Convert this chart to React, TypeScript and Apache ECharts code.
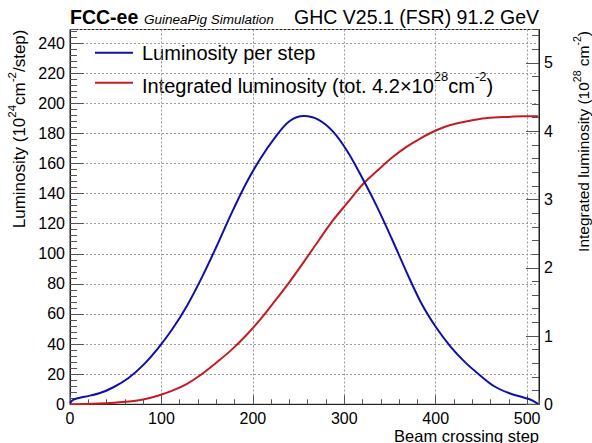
import React, { useEffect, useRef } from "react";
import * as echarts from "echarts";

// Luminosity per step (10^24 cm^-2 / step)
const lumiSteps = [0, 4, 16, 32, 48, 64, 80, 96, 112, 128, 144, 160, 176, 192, 208, 224, 240, 256, 272, 288, 304, 320, 336, 352, 368, 384, 400, 416, 432, 448, 464, 480, 496, 504, 512];
const lumiValues = [0.8, 3.2, 5.0, 7.3, 11.5, 17.5, 26, 37, 50, 65.5, 84, 104.5, 126, 146, 163, 177, 188, 191.5, 189, 181, 167.5, 150, 131, 110, 88, 67.5, 51.5, 38.5, 28, 19.5, 12, 7.5, 4.5, 3, 0.3];

// Integrated luminosity (10^28 cm^-2)
const intSteps = [0, 16, 32, 48, 64, 80, 96, 112, 128, 144, 160, 176, 192, 208, 224, 240, 256, 272, 288, 304, 320, 336, 352, 368, 384, 400, 416, 432, 448, 464, 480, 496, 512];
const intValues = [0, 0.003, 0.01, 0.022, 0.04, 0.07, 0.125, 0.2, 0.3, 0.44, 0.61, 0.79, 1.0, 1.24, 1.51, 1.79, 2.09, 2.4, 2.7, 2.96, 3.22, 3.42, 3.61, 3.77, 3.9, 4.01, 4.09, 4.14, 4.18, 4.2, 4.21, 4.22, 4.22];

// Axis settings
const xMax = 513;
const xMajor = 100;
const xMinor = 20;
const leftMax = 249;
const leftMajor = 20;
const leftMinor = 4;
const rightMax = 5.49;
const rightMajor = 1;
const rightMinor = 0.2;

const FONT = '"Liberation Sans", Arial, Helvetica, sans-serif';
const BLUE = "#1010a8";
const RED = "#c41c22";
const TICK = "#555";
const AXIS = "#222";

export default function App() {
  const ref = useRef<HTMLDivElement>(null);

  useEffect(() => {
    const chart = echarts.init(ref.current as HTMLDivElement, null, { renderer: "svg" });

    const supRich = (size: number, supSize: number) => ({
      n: { fontSize: size, fontFamily: FONT, color: "#000", lineHeight: Math.round(size * 1.3), verticalAlign: "bottom" },
      s: { fontSize: supSize, fontFamily: FONT, color: "#000", lineHeight: supSize, verticalAlign: "top" },
    });

    const tick = (len: number) => ({ show: true, inside: true, length: len, lineStyle: { color: TICK, width: 1 } });
    const label = (margin: number) => ({
      show: true,
      margin,
      fontSize: 16,
      fontFamily: FONT,
      color: "#000",
      showMaxLabel: false,
    });
    const gridLine = { show: true, lineStyle: { color: "#9a9a9a", type: [2, 2], width: 1 } };

    chart.setOption({
      animation: false,
      backgroundColor: "#fff",
      grid: {
        left: 70,
        right: 53,
        top: 29.5,
        bottom: 38.7,
        show: true,
        borderColor: AXIS,
        borderWidth: 1,
        containLabel: false,
      },
      xAxis: [
        {
          type: "value",
          position: "bottom",
          min: 0,
          max: xMax,
          interval: xMajor,
          axisLine: { show: true, onZero: false, lineStyle: { color: AXIS, width: 1 } },
          axisTick: tick(9),
          axisLabel: label(6),
          splitLine: gridLine,
        },
        {
          type: "value",
          position: "bottom",
          min: 0,
          max: xMax,
          interval: xMinor,
          axisLine: { show: false, onZero: false },
          axisTick: tick(5),
          axisLabel: { show: false },
          splitLine: { show: false },
        },
      ],
      yAxis: [
        {
          type: "value",
          position: "left",
          min: 0,
          max: leftMax,
          interval: leftMajor,
          axisLine: { show: true, onZero: false, lineStyle: { color: AXIS, width: 1 } },
          axisTick: tick(14),
          axisLabel: label(5),
          splitLine: gridLine,
        },
        {
          type: "value",
          position: "left",
          min: 0,
          max: leftMax,
          interval: leftMinor,
          axisLine: { show: false, onZero: false },
          axisTick: tick(7),
          axisLabel: { show: false },
          splitLine: { show: false },
        },
        {
          type: "value",
          position: "right",
          min: 0,
          max: rightMax,
          interval: rightMajor,
          axisLine: { show: true, onZero: false, lineStyle: { color: AXIS, width: 1 } },
          axisTick: tick(13),
          axisLabel: label(5),
          splitLine: { show: false },
        },
        {
          type: "value",
          position: "right",
          min: 0,
          max: rightMax,
          interval: rightMinor,
          axisLine: { show: false, onZero: false },
          axisTick: tick(7),
          axisLabel: { show: false },
          splitLine: { show: false },
        },
      ],
      series: [
        {
          name: "Integrated luminosity",
          type: "line",
          xAxisIndex: 0,
          yAxisIndex: 2,
          data: intSteps.map((x, i) => [x, intValues[i]]),
          showSymbol: false,
          symbol: "none",
          smooth: 0.35,
          lineStyle: { color: RED, width: 2 },
          itemStyle: { color: RED },
          z: 3,
        },
        {
          name: "Luminosity per step",
          type: "line",
          xAxisIndex: 0,
          yAxisIndex: 0,
          data: lumiSteps.map((x, i) => [x, lumiValues[i]]),
          showSymbol: false,
          symbol: "none",
          smooth: 0.35,
          lineStyle: { color: BLUE, width: 2 },
          itemStyle: { color: BLUE },
          z: 4,
        },
      ],
      graphic: [
        {
          type: "text",
          x: 70,
          y: 17,
          style: { text: "FCC-ee", fontSize: 19.5, fontWeight: "bold", fontFamily: FONT, fill: "#000", align: "left", verticalAlign: "middle" },
        },
        {
          type: "text",
          x: 144,
          y: 19.2,
          style: { text: "GuineaPig Simulation", fontSize: 13.5, fontStyle: "italic", fontFamily: FONT, fill: "#000", align: "left", verticalAlign: "middle" },
        },
        {
          type: "text",
          x: 539,
          y: 17,
          style: { text: "GHC V25.1 (FSR) 91.2 GeV", fontSize: 19.5, fontFamily: FONT, fill: "#000", align: "right", verticalAlign: "middle" },
        },
        // legend
        { type: "line", shape: { x1: 95, y1: 52.7, x2: 133, y2: 52.7 }, style: { stroke: BLUE, lineWidth: 2 } },
        {
          type: "text",
          x: 142,
          y: 52.7,
          style: { text: "Luminosity per step", fontSize: 20, fontFamily: FONT, fill: "#000", align: "left", verticalAlign: "middle" },
        },
        { type: "line", shape: { x1: 95, y1: 82.7, x2: 133, y2: 82.7 }, style: { stroke: RED, lineWidth: 2 } },
        {
          type: "text",
          x: 142,
          y: 82.7,
          style: {
            text: "{n|Integrated luminosity (tot. 4.2×10}{s|28}{n|cm}{s|-2}{n|)}",
            rich: supRich(20, 13),
            align: "left",
            verticalAlign: "middle",
          },
        },
        // axis titles
        {
          type: "text",
          x: 17,
          y: 29.5,
          rotation: Math.PI / 2,
          style: {
            text: "{n|Luminosity (10}{s|24}{n|cm}{s|-2}{n|/step)}",
            rich: supRich(17, 11.5),
            align: "right",
            verticalAlign: "middle",
          },
        },
        {
          type: "text",
          x: 581,
          y: 31,
          rotation: Math.PI / 2,
          style: {
            text: "{n|Integrated luminosity (10}{s|28}{n| cm}{s|-2}{n|)}",
            rich: supRich(15.5, 10.5),
            align: "right",
            verticalAlign: "middle",
          },
        },
        {
          type: "text",
          x: 539,
          y: 435.5,
          style: { text: "Beam crossing step", fontSize: 16.5, fontFamily: FONT, fill: "#000", align: "right", verticalAlign: "middle" },
        },
      ],
    });

    return () => chart.dispose();
  }, []);

  return (
    <div
      ref={ref}
      style={{ position: "fixed", left: 0, top: 0, width: 592, height: 443, background: "#fff" }}
    />
  );
}
